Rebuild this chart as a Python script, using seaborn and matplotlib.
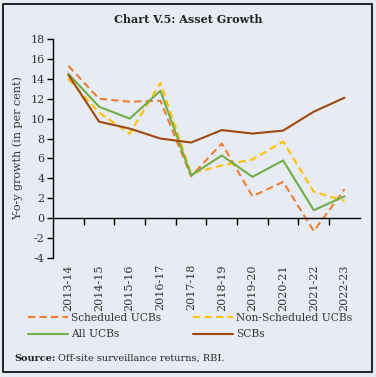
import pandas as pd
import numpy as np
import matplotlib
matplotlib.use("Agg")
import matplotlib.pyplot as plt
import seaborn as sns
from matplotlib.patches import Rectangle
from matplotlib.lines import Line2D

years = ["2013-14", "2014-15", "2015-16", "2016-17", "2017-18",
         "2018-19", "2019-20", "2020-21", "2021-22", "2022-23"]
scheduled = [15.3, 12.0, 11.7, 11.8, 4.2, 7.5, 2.2, 3.65, -1.3, 2.9]
non_scheduled = [14.0, 10.6, 8.5, 13.6, 4.5, 5.3, 5.9, 7.7, 2.65, 1.75]
all_ucbs = [14.5, 11.2, 10.0, 12.8, 4.3, 6.3, 4.15, 5.8, 0.8, 2.2]
scbs = [14.4, 9.7, 9.0, 8.0, 7.6, 8.85, 8.5, 8.8, 10.7, 12.1]

series = ["Scheduled UCBs", "Non-Scheduled UCBs", "All UCBs", "SCBs"]
colors = ["#ED7D31", "#FFC000", "#70AD47", "#9E480E"]
dashed = [True, True, False, False]

df = pd.DataFrame({"year": years * 4,
                   "x": list(range(len(years))) * 4,
                   "value": scheduled + non_scheduled + all_ucbs + scbs,
                   "series": np.repeat(series, len(years))})

bg = "#E7ECF4"
sns.set_theme(style="white")
plt.rcParams["font.family"] = ["DejaVu Serif"]
plt.rcParams["axes.unicode_minus"] = False

fig = plt.figure(figsize=(3.76, 3.77), dpi=100, facecolor=bg)
ax = fig.add_axes([0.141, 0.3156, 0.816, 0.581])
ax.set_facecolor(bg)

for s, c, d in zip(series, colors, dashed):
    sub = df[df["series"] == s]
    sns.lineplot(data=sub, x="x", y="value", ax=ax, color=c, lw=1.5,
                 linestyle=(0, (3.5, 2)) if d else "-", legend=False)

ax.set_xlim(-0.5, len(years) - 0.5)
ax.set_ylim(-4, 18)
ax.set_yticks(range(-4, 19, 2))
ax.tick_params(axis="y", labelsize=8, length=4, width=1, color="black",
               direction="out", left=True, pad=2, labelcolor="#333333")
for side in ["top", "right"]:
    ax.spines[side].set_visible(False)
ax.spines["left"].set_color("black")
ax.spines["left"].set_linewidth(1)
ax.spines["bottom"].set_position(("data", 0))
ax.spines["bottom"].set_color("black")
ax.spines["bottom"].set_linewidth(1)

ax.set_xticks(np.arange(0.5, len(years) - 0.5), minor=True)
ax.set_xticks(range(len(years)))
ax.set_xticklabels(years, rotation=90, fontsize=8, color="#333333")
ax.tick_params(axis="x", which="major", length=0, pad=33, bottom=True)
ax.tick_params(axis="x", which="minor", length=5, width=1, color="black",
               direction="out", bottom=True)
ax.set_xlabel("")
ax.set_ylabel("Y-o-y growth (in per cent)", fontsize=8, color="#333333", labelpad=5)

fig.text(0.5, 0.948, "Chart V.5: Asset Growth", ha="center", va="center",
         fontsize=8, fontweight="bold", color="#222222")

# legend is filled column by column: put the items so rows read as in the source
order = [0, 2, 1, 3]
handles = [Line2D([], [], color=colors[i], lw=1.5,
                  linestyle=(0, (3.5, 2)) if dashed[i] else "-") for i in order]
fig.legend(handles, [series[i] for i in order], ncol=2, loc="center left",
           bbox_to_anchor=(0.05, 0.135), frameon=False, fontsize=7.7,
           handlelength=3.7, handletextpad=0.3, columnspacing=3.0,
           labelspacing=0.6, labelcolor="#333333")

fig.text(0.037, 0.05, "Source:", fontsize=7, fontweight="bold",
         va="center", color="#222222")
fig.text(0.155, 0.05, "Off-site surveillance returns, RBI.", fontsize=7,
         va="center", color="#222222")

fig.patches.append(Rectangle((0.008, 0.013), 0.982, 0.976, transform=fig.transFigure,
                             fill=False, edgecolor="black", lw=1.2))

fig.savefig("out.png", dpi=100, facecolor=bg)
